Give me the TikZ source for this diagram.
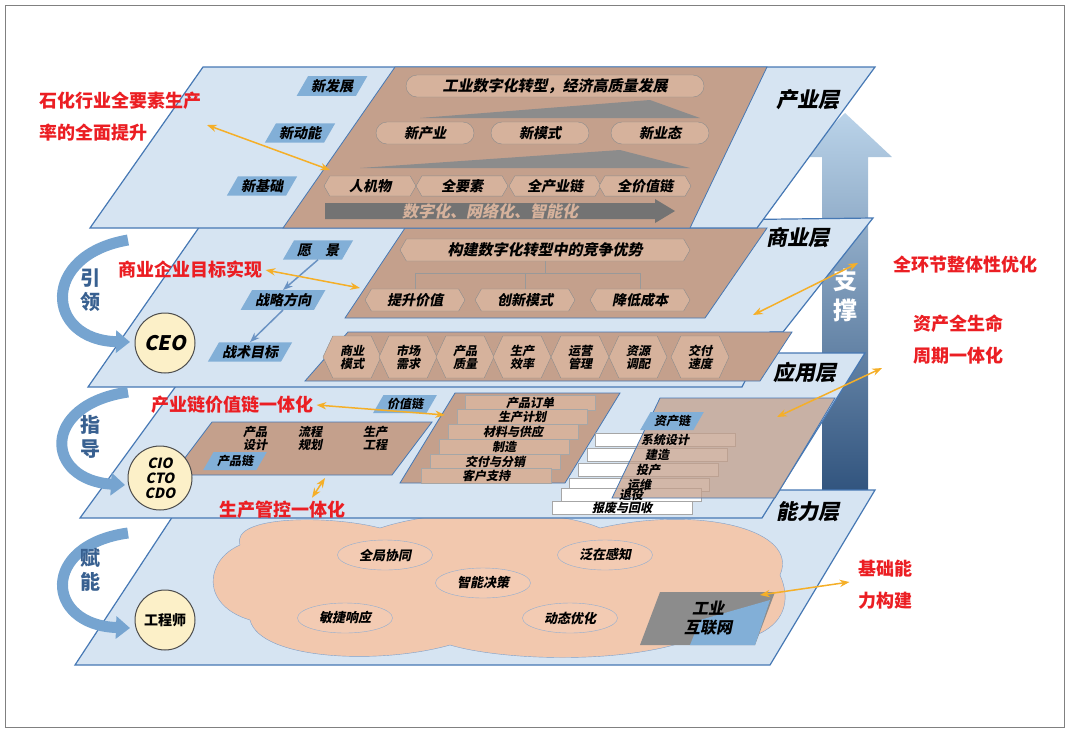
\documentclass[tikz,border=0pt]{standalone}
\usepackage{fontspec}
\setmainfont{Noto Sans CJK SC}
\newfontfamily\slfont{Noto Sans CJK SC}[FakeSlant=0.2]
\usetikzlibrary{shapes.misc,shapes.geometric,shapes.symbols,arrows.meta,calc,positioning}
\definecolor{planeblue}{RGB}{214,228,242}
\definecolor{planeedge}{RGB}{70,120,180}
\definecolor{tanfill}{RGB}{196,160,140}
\definecolor{tanbox}{RGB}{214,178,156}
\definecolor{labelblue}{RGB}{130,175,215}
\definecolor{redtext}{RGB}{235,30,35}
\definecolor{orangearrow}{RGB}{245,175,40}
\definecolor{cream}{RGB}{252,240,200}
\definecolor{cloudfill}{RGB}{240,190,160}
\begin{document}
\begin{tikzpicture}[x=1pt,y=-1pt,font=\bfseries\fontsize{13}{15}\selectfont]
        \tikzstyle{plane}=[fill=planeblue,draw=planeedge,line width=1.2pt]
        \tikzstyle{tan}=[fill=tanfill,draw=planeedge,line width=0.8pt]
        \tikzstyle{rbox}=[rounded rectangle,draw=black!45,fill=tanbox,minimum height=22pt,inner xsep=6pt,font=\slfont\bfseries\fontsize{14}{16}\selectfont]
        \tikzstyle{hexa}=[signal,signal to=west and east,signal pointer angle=120,draw=black!45,fill=tanbox,minimum height=22pt,inner xsep=4pt,font=\slfont\bfseries\fontsize{14}{16}\selectfont]
        \tikzstyle{hexs}=[signal,signal to=west and east,signal pointer angle=130,draw=black!45,fill=tanbox,minimum height=42pt,minimum width=58pt,inner sep=1pt,align=center,font=\slfont\bfseries\fontsize{12}{13}\selectfont]
        \tikzstyle{tag}=[trapezium,trapezium left angle=60,trapezium right angle=120,fill=labelblue,inner sep=3pt,minimum height=18pt,font=\slfont\bfseries\fontsize{14}{16}\selectfont]
        \tikzstyle{role}=[circle,draw=black!70,fill=cream,line width=1pt,minimum size=60pt,align=center]
        \tikzstyle{note}=[text=redtext,font=\bfseries\fontsize{18}{32}\selectfont,align=left]
        \tikzstyle{layer}=[font=\slfont\bfseries\fontsize{21}{23}\selectfont]
        \tikzstyle{pointer}=[orangearrow,line width=1.5pt,{Stealth}-{Stealth}]
        \tikzstyle{row}=[draw=black!35,fill=tanbox,minimum height=15pt,inner sep=0pt,font=\slfont\bfseries\fontsize{12}{13}\selectfont]
        \tikzstyle{wrow}=[draw=black!35,fill=white,minimum height=13pt,inner sep=0pt]
        \tikzstyle{guidearrow}=[line width=11pt,color=labelblue!80!planeedge,-{Triangle[width=22pt,length=14pt]}]
        \tikzstyle{oval}=[ellipse,draw=planeedge!60,fill=cloudfill!80!white,minimum width=95pt,minimum height=30pt,font=\slfont\bfseries\fontsize{13}{14}\selectfont]

        \useasboundingbox (0,0) rectangle (1069,732);
        \draw[black!50] (5,5) rectangle (1064,727);

        % Support arrow
        \shade[top color=labelblue!55,bottom color=planeedge!70!black] (822,492) -- (822,157) -- (800,157) -- (845,113) -- (892,157) -- (868,157) -- (868,492) -- cycle;
        \node[white,font=\bfseries\fontsize{24}{30}\selectfont,align=center] (zc) at (845,295) {支\\撑};

        % Bottom plane
        \draw[plane] (190,490) -- (875,490) -- (770,665) -- (75,665) -- cycle;
        \fill[cloudfill!85!white,draw=planeedge!70] (240,545) .. controls (230,515) and (330,515) .. (380,528) .. controls (450,505) and (560,510) .. (600,528) .. controls (700,505) and (800,530) .. (780,575) .. controls (800,620) and (760,650) .. (690,640) .. controls (620,665) and (500,660) .. (450,645) .. controls (380,665) and (260,660) .. (250,620) .. controls (200,605) and (205,560) .. (240,545);
        \node[oval] (qj) at (385,555) {全局协同};
        \node[oval] (fz) at (605,555) {泛在感知};
        \node[oval] (zn) at (483,583) {智能决策};
        \node[oval] (mj) at (345,618) {敏捷响应};
        \node[oval] (dt) at (570,618) {动态优化};
        \fill[black!45] (660,592) -- (775,592) -- (755,645) -- (640,645) -- cycle;
        \fill[labelblue] (700,620) -- (770,600) -- (755,645) -- (690,645) -- cycle;
        \node[align=center,font=\slfont\bfseries\fontsize{16}{19}\selectfont] (gylw) at (708,618) {工业\\互联网};
        \node[role,font=\bfseries\fontsize{14}{16}\selectfont] (eng) at (165,620) {工程师};
        \node[layer] (nlc) at (808,512) {能力层};

        % Capability plane
        \draw[plane] (200,353) -- (865,353) -- (762,518) -- (80,518) -- cycle;
        \draw[tan] (212,422) -- (432,422) -- (392,475) -- (172,475) -- cycle;
        \node[tag,font=\slfont\bfseries\fontsize{12}{13}\selectfont] (cplian) at (235,461) {产品链};
        \node[align=center,font=\slfont\bfseries\fontsize{12}{13}\selectfont] (cpsj) at (255,438) {产品\\设计};
        \node[align=center,font=\slfont\bfseries\fontsize{12}{13}\selectfont] (lcgh) at (310,438) {流程\\规划};
        \node[align=center,font=\slfont\bfseries\fontsize{12}{13}\selectfont] (scgc) at (375,438) {生产\\工程};
        \node[tag,font=\slfont\bfseries\fontsize{12}{13}\selectfont] (jzl) at (405,404) {价值链};
        \draw[tan] (455,393) -- (620,393) -- (565,483) -- (400,483) -- cycle;
        \foreach \t/\y/\dx in {产品订单/403/0,生产计划/417/-8,材料与供应/432/-17,制造/447/-26,交付与分销/462/-35,客户支持/476/-44}
          \node[row,minimum width=130pt] (r\y) at (530+\dx,\y) {\t};
        \foreach \y/\dx in {440/0,455/-8,470/-17,485/-26,495/-34,508/-43}
          \node[wrow,minimum width=140pt] (w\y) at (665+\dx,\y) {};
        \draw[tan,fill opacity=0.75] (660,398) -- (835,398) -- (775,498) -- (612,498) -- cycle;
        \foreach \t/\y/\dx in {系统设计/440/0,建造/455/-8,投产/470/-17,运维/485/-26,退役/495/-34,报废与回收/508/-43}
          \node[font=\slfont\bfseries\fontsize{12}{13}\selectfont,inner sep=0pt] (wt\y) at (665+\dx,\y) {\t};
        \node[tag,font=\slfont\bfseries\fontsize{12}{13}\selectfont] (zcl) at (672,421) {资产链};
        \node[role,minimum size=64pt,font=\slfont\bfseries\fontsize{14}{15}\selectfont] (cio) at (160,478) {CIO\\CTO\\CDO};
        \node[layer] (yyc) at (805,372) {应用层};

        % Business plane
        \draw[plane] (200,226) -- (873,218) -- (783,332) -- (770,332) -- (742,387) -- (88,387) -- cycle;
        \draw[tan] (405,228) -- (767,228) -- (705,318) -- (345,318) -- cycle;
        \node[hexa,minimum width=290pt,font=\slfont\bfseries\fontsize{15}{17}\selectfont] (jg) at (545,250) {构建数字化转型中的竞争优势};
        \node[hexa,minimum width=100pt] (tsjz) at (415,300) {提升价值};
        \node[hexa,minimum width=100pt] (cxms) at (525,300) {创新模式};
        \node[hexa,minimum width=100pt] (dtcb) at (640,300) {降低成本};
        \draw[black!40] (jg.south) -- ++(0,12) coordinate (jgb);
        \draw[black!40] (tsjz.north |- jgb) -- (dtcb.north |- jgb);
        \foreach \n in {tsjz,cxms,dtcb} \draw[black!40] (\n.north |- jgb) -- (\n.north);
        \draw[tan] (348,332) -- (792,332) -- (760,381) -- (305,381) -- cycle;
        \foreach \t/\x in {商业\\模式/352,市场\\需求/408,产品\\质量/465,生产\\效率/522,运营\\管理/580,资源\\调配/638,交付\\速度/700}
          \node[hexs] (h\x) at (\x,357) {\t};
        \node[tag] (yj) at (318,250) {愿\quad 景};
        \node[tag] (zlfx) at (283,300) {战略方向};
        \node[tag] (zsmb) at (250,352) {战术目标};
        \draw[planeedge!80,line width=1.5pt,-{Stealth}] (yj.south) -- (zlfx.north);
        \draw[planeedge!80,line width=1.5pt,-{Stealth}] (zlfx.south) -- (zsmb.north);
        \node[role,font=\slfont\bfseries\fontsize{20}{22}\selectfont] (ceo) at (165,343) {CEO};
        \node[layer] (syc) at (798,238) {商业层};

        % Industry plane
        \draw[plane] (203,67) -- (875,67) -- (757,228) -- (90,228) -- cycle;
        \draw[tan] (395,67) -- (767,67) -- (690,228) -- (283,228) -- cycle;
        \node[rbox,minimum width=310pt,font=\slfont\bfseries\fontsize{15}{17}\selectfont] (gy) at (555,86) {工业数字化转型，经济高质量发展};
        \fill[black!45] (420,118) -- (650,100) -- (700,118) -- cycle;
        \node[rbox,minimum width=110pt] (xcy) at (425,133) {新产业};
        \node[rbox,minimum width=110pt] (xms) at (540,133) {新模式};
        \node[rbox,minimum width=110pt] (xyt) at (660,133) {新业态};
        \fill[black!45] (360,168) -- (620,150) -- (690,168) -- cycle;
        \foreach \t/\x in {人机物/370,全要素/462,全产业链/555,全价值链/645}
          \node[hexa,minimum width=92pt,minimum height=20pt] (k\x) at (\x,186) {\t};
        \fill[black!55] (325,203) -- (655,203) -- (655,199) -- (675,211) -- (655,223) -- (655,219) -- (325,219) -- cycle;
        \node[text=tanbox,font=\slfont\bfseries\fontsize{16}{18}\selectfont] (szh) at (490,211) {数字化、网络化、智能化};
        \node[tag] (xfz) at (332,86) {新发展};
        \node[tag] (xdn) at (300,133) {新动能};
        \node[tag] (xjc) at (262,186) {新基础};
        \node[layer] (cyc) at (808,100) {产业层};

        % Left guiding arrows
        \draw[guidearrow] (128,240) .. controls (40,255) and (45,340) .. (130,342);
        \draw[guidearrow] (128,392) .. controls (40,405) and (45,480) .. (125,485);
        \draw[guidearrow] (128,533) .. controls (40,545) and (45,625) .. (130,628);
        \node[align=center,text=planeedge!80!black,font=\bfseries\fontsize{20}{24}\selectfont] (yl) at (90,290) {引\\领};
        \node[align=center,text=planeedge!80!black,font=\bfseries\fontsize{20}{24}\selectfont] (zd) at (90,437) {指\\导};
        \node[align=center,text=planeedge!80!black,font=\bfseries\fontsize{20}{24}\selectfont] (fn) at (90,570) {赋\\能};

        % Notes
        \node[note] (n1) at (120,117) {石化行业全要素生产\\率的全面提升};
        \node[note] (n2) at (190,270) {商业企业目标实现};
        \node[note] (n3) at (232,405) {产业链价值链一体化};
        \node[note] (n4) at (282,510) {生产管控一体化};
        \node[note] (n5) at (965,265) {全环节整体性优化};
        \node[note,align=center] (n6) at (958,340) {资产全生命\\周期一体化};
        \node[note] (n7) at (885,585) {基础能\\力构建};
        \coordinate (t1) at (207,125);
        \coordinate (t5) at (858,263);
        \coordinate (t6) at (882,368);
        \draw[pointer] (t1) -- (330,170);
        \draw[pointer] (n2.east) -- (360,288);
        \draw[pointer] (n3.east) -- (445,415);
        \draw[pointer] (n4.north) ++(30,0) -- (325,478);
        \draw[pointer] (t5) -- (753,315);
        \draw[pointer] (t6) -- (777,417);
        \draw[pointer] (n7.west) ++(-5,-3) -- (760,595);
    \end{tikzpicture}
\end{document}
